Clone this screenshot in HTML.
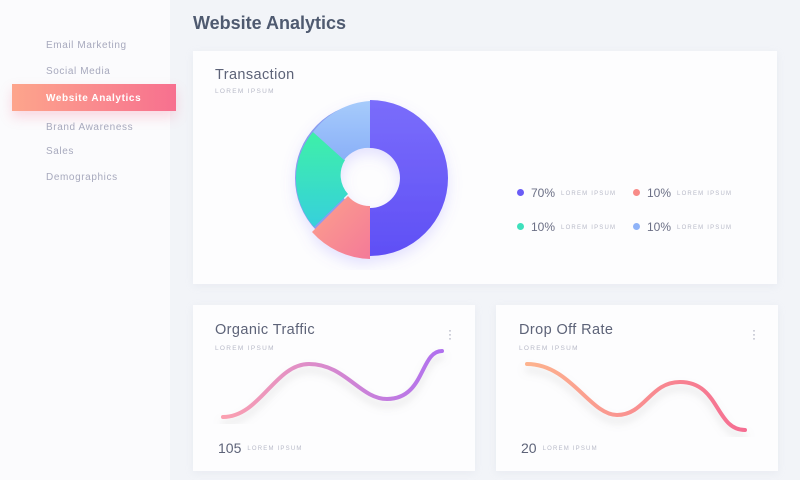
<!DOCTYPE html>
<html><head><meta charset="utf-8"><style>
body{margin:0;width:800px;height:480px;background:#f2f4f8;font-family:"Liberation Sans",sans-serif;position:relative;overflow:hidden}
.side{position:absolute;left:0;top:0;width:170px;height:480px;background:#fbfbfd}
.nav{position:absolute;left:46px;font-size:10px;color:#a7a9bd;letter-spacing:.6px}
.act{position:absolute;left:12px;top:84px;width:164px;height:27px;background:linear-gradient(90deg,#fda58c,#f7708f);box-shadow:0 6px 12px rgba(247,112,143,.25)}
.card{position:absolute;background:#fdfdfe;box-shadow:0 2px 8px rgba(180,190,210,.15)}
.t{position:absolute;font-size:14.5px;color:#5d6378;letter-spacing:.4px}
.s{position:absolute;font-size:6.5px;color:#b8bac8;letter-spacing:1.3px}
.lg{position:absolute;font-size:12px;color:#6b6f85}
.lg i{position:absolute;left:-14px;top:3px;width:7px;height:7px;border-radius:50%}
.lg span{font-size:6px;color:#b8bac8;letter-spacing:1.2px;margin-left:6px;vertical-align:2px}
.dots{position:absolute;font-size:12px;color:#9a9db0;line-height:4px;width:4px}
</style></head><body>
<div class="side"></div>
<div class="nav" style="top:40px">Email Marketing</div>
<div class="nav" style="top:66px">Social Media</div>
<div class="act"></div>
<div class="nav" style="top:93px;color:#fff;font-weight:bold">Website Analytics</div>
<div class="nav" style="top:122px">Brand Awareness</div>
<div class="nav" style="top:146px">Sales</div>
<div class="nav" style="top:172px">Demographics</div>
<div style="position:absolute;left:193px;top:13px;font-size:18px;font-weight:bold;color:#4f5a70">Website Analytics</div>

<div class="card" style="left:193px;top:51px;width:584px;height:233px"></div>
<div class="t" style="left:215px;top:67px">Transaction</div>
<div class="s" style="left:215px;top:88px">LOREM IPSUM</div>
<svg style="position:absolute;left:280px;top:90px" width="190" height="180" viewBox="280 90 190 180">
<defs>
<linearGradient id="p" x1="0" y1="0" x2="0" y2="1"><stop offset="0" stop-color="#7a6dfb"/><stop offset="1" stop-color="#5f4ff5"/></linearGradient>
<linearGradient id="g" x1="0" y1="0" x2="0" y2="1"><stop offset="0" stop-color="#3ef0a8"/><stop offset="1" stop-color="#36d0dc"/></linearGradient>
<linearGradient id="r" x1="0" y1="0" x2="1" y2="1"><stop offset="0" stop-color="#fca18c"/><stop offset="1" stop-color="#f47a98"/></linearGradient>
<linearGradient id="b" x1="0" y1="0" x2="0" y2="1"><stop offset="0" stop-color="#a6cbfb"/><stop offset="1" stop-color="#8ab0f8"/></linearGradient>
<filter id="sh"><feDropShadow dx="0" dy="6" stdDeviation="7" flood-color="#7a6dfb" flood-opacity=".2"/></filter>
</defs>
<g filter="url(#sh)">
<circle cx="370" cy="178" r="54" fill="none" stroke="#8a9cf0" stroke-width="42"/>
<path d="M370 100 A78 78 0 0 1 370 256 L370 208 A30 30 0 0 0 370 148Z" fill="url(#p)"/>
<path d="M370 259 A81 81 0 0 1 312 232 L348 196 A28 28 0 0 0 370 206Z" fill="url(#r)"/>
<path d="M314 227 A73 73 0 0 1 313 132 L345 160 A28 28 0 0 0 348 194Z" fill="url(#g)"/>
<path d="M313 132 A77 77 0 0 1 370 101 L370 148 A30 30 0 0 0 344 160Z" fill="url(#b)"/>
</g>
</svg>
<div class="lg" style="left:531px;top:186px"><i style="background:#6a5cf6"></i>70%<span>LOREM IPSUM</span></div>
<div class="lg" style="left:647px;top:186px"><i style="background:#f88b88"></i>10%<span>LOREM IPSUM</span></div>
<div class="lg" style="left:531px;top:220px"><i style="background:#3ee0bc"></i>10%<span>LOREM IPSUM</span></div>
<div class="lg" style="left:647px;top:220px"><i style="background:#8fb3f8"></i>10%<span>LOREM IPSUM</span></div>

<div class="card" style="left:193px;top:305px;width:282px;height:166px"></div>
<div class="t" style="left:215px;top:322px">Organic Traffic</div>
<div class="s" style="left:215px;top:345px">LOREM IPSUM</div>
<div class="dots" style="left:448px;top:328px">·<br>·<br>·</div>
<div style="position:absolute;left:218px;top:440px;font-size:14px;color:#5d6378">105<span style="font-size:6px;color:#b8bac8;letter-spacing:1.2px;margin-left:6px;vertical-align:3px">LOREM IPSUM</span></div>

<div class="card" style="left:496px;top:305px;width:282px;height:166px"></div>
<div class="t" style="left:519px;top:322px">Drop Off Rate</div>
<div class="s" style="left:519px;top:345px">LOREM IPSUM</div>
<div class="dots" style="left:752px;top:328px">·<br>·<br>·</div>
<div style="position:absolute;left:521px;top:440px;font-size:14px;color:#5d6378">20<span style="font-size:6px;color:#b8bac8;letter-spacing:1.2px;margin-left:6px;vertical-align:3px">LOREM IPSUM</span></div>

<svg style="position:absolute;left:0;top:0" width="800" height="480">
<defs>
<linearGradient id="l1" x1="223" y1="0" x2="442" y2="0" gradientUnits="userSpaceOnUse"><stop offset="0" stop-color="#fba0b0"/><stop offset="1" stop-color="#b070ef"/></linearGradient>
<linearGradient id="l2" x1="527" y1="0" x2="745" y2="0" gradientUnits="userSpaceOnUse"><stop offset="0" stop-color="#fdb38e"/><stop offset="1" stop-color="#f56d92"/></linearGradient>
<filter id="ls"><feDropShadow dx="0" dy="6" stdDeviation="4" flood-color="#999" flood-opacity=".25"/></filter>
</defs>
<path d="M223 417 C260 417 275 364 309 364 C345 364 360 399 387 399 C425 399 420 351 442 351" fill="none" stroke="url(#l1)" stroke-width="4" stroke-linecap="round" filter="url(#ls)"/>
<path d="M527 364 C570 364 590 415 617 415 C645 415 650 382 680 382 C720 382 715 430 745 430" fill="none" stroke="url(#l2)" stroke-width="4" stroke-linecap="round" filter="url(#ls)"/>
</svg>
</body></html>
